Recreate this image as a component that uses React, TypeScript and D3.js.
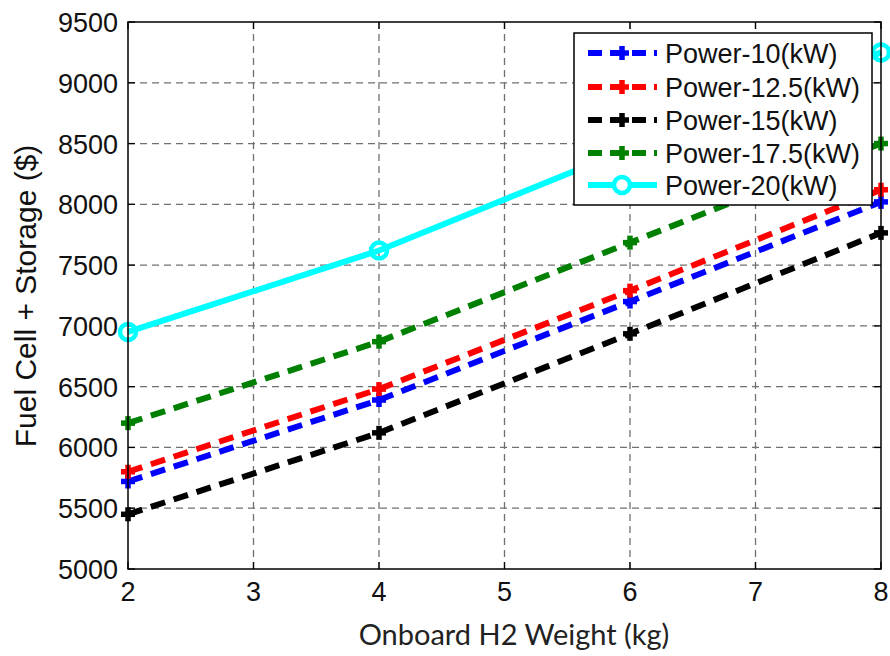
import React from "react";
import * as d3 from "d3";

const weights = [2, 4, 6, 8];
const power10 = [5720, 6390, 7200, 8020];
const power12_5 = [5800, 6480, 7290, 8120];
const power15 = [5450, 6120, 6935, 7765];
const power17_5 = [6200, 6870, 7685, 8500];
const power20 = [6950, 7620, 8460, 9250];

const seriesNames = ["Power-10(kW)", "Power-12.5(kW)", "Power-15(kW)", "Power-17.5(kW)", "Power-20(kW)"];
const seriesColors = ["#0000ff", "#ff0000", "#000000", "#008000", "#00ffff"];
const seriesValues = [power10, power12_5, power15, power17_5, power20];

const xTicks = [2, 3, 4, 5, 6, 7, 8];
const yTicks = [5000, 5500, 6000, 6500, 7000, 7500, 8000, 8500, 9000, 9500];

export default function App() {
  const W = 890, H = 656;
  const left = 128, right = 881, top = 22, bottom = 569;
  const x = d3.scaleLinear().domain([2, 8]).range([left, right]);
  const y = d3.scaleLinear().domain([5000, 9500]).range([bottom, top]);
  const line = d3.line<number>().x((_, i) => x(weights[i])).y((d) => y(d));
  const font = "'Liberation Sans', Arial, sans-serif";

  const plus = (cx: number, cy: number, color: string, key: string) => (
    <g key={key} stroke={color} strokeWidth={5.5}>
      <line x1={cx - 7} x2={cx + 7} y1={cy} y2={cy} />
      <line x1={cx} x2={cx} y1={cy - 7} y2={cy + 7} />
    </g>
  );

  const legX = 574, legY = 33, legW = 298, legH = 172;
  const rowY = [53, 87, 120, 153, 185];

  return (
    <svg width={W} height={H} style={{ position: "absolute", left: 0, top: 0 }}>
      <rect width={W} height={H} fill="#fff" />
      {/* grid */}
      {xTicks.slice(1, -1).map((t) => (
        <line key={"gx" + t} x1={x(t)} x2={x(t)} y1={top} y2={bottom} stroke="#707070" strokeWidth={1.3} strokeDasharray="7 5" />
      ))}
      {yTicks.slice(1, -1).map((t) => (
        <line key={"gy" + t} x1={left} x2={right} y1={y(t)} y2={y(t)} stroke="#707070" strokeWidth={1.3} strokeDasharray="7 5" />
      ))}
      {/* ticks */}
      {xTicks.map((t) => (
        <g key={"tx" + t}>
          <line x1={x(t)} x2={x(t)} y1={bottom} y2={bottom - 7} stroke="#000" strokeWidth={1.3} />
          <line x1={x(t)} x2={x(t)} y1={top} y2={top + 7} stroke="#000" strokeWidth={1.3} />
          <text x={x(t)} y={601} textAnchor="middle" fontFamily={font} fontSize={27} fill="#111">{t}</text>
        </g>
      ))}
      {yTicks.map((t) => (
        <g key={"ty" + t}>
          <line x1={left} x2={left + 7} y1={y(t)} y2={y(t)} stroke="#000" strokeWidth={1.3} />
          <line x1={right} x2={right - 7} y1={y(t)} y2={y(t)} stroke="#000" strokeWidth={1.3} />
          <text x={118} y={y(t) + 10} textAnchor="end" fontFamily={font} fontSize={27} fill="#111">{t}</text>
        </g>
      ))}
      {/* series */}
      {seriesValues.map((vals, si) => {
        const c = seriesColors[si];
        const dashed = si < 4;
        return (
          <g key={"s" + si}>
            <path d={line(vals) || ""} fill="none" stroke={c} strokeWidth={6} strokeDasharray={dashed ? "15 9" : undefined} />
            {vals.map((v, i) =>
              dashed ? plus(x(weights[i]), y(v), c, "m" + si + "-" + i) : (
                <circle key={"m" + si + "-" + i} cx={x(weights[i])} cy={y(v)} r={8} fill="none" stroke={c} strokeWidth={4.5} />
              )
            )}
          </g>
        );
      })}
      {/* axes box */}
      <rect x={left} y={top} width={right - left} height={bottom - top} fill="none" stroke="#000" strokeWidth={1.5} />
      {/* legend */}
      <rect x={legX} y={legY} width={legW} height={legH} fill="#fff" stroke="#000" strokeWidth={1.5} />
      {seriesNames.map((n, i) => {
        const c = seriesColors[i];
        const dashed = i < 4;
        const ly = rowY[i];
        return (
          <g key={"l" + i}>
            <line x1={588} x2={657} y1={ly} y2={ly} stroke={c} strokeWidth={6} strokeDasharray={dashed ? "14 8" : undefined} />
            {dashed ? plus(622, ly, c, "lm" + i) : <circle cx={622} cy={ly} r={8} fill="#fff" stroke={c} strokeWidth={4.5} />}
            <text x={665} y={ly + 10} fontFamily={font} fontSize={27} fill="#111">{n}</text>
          </g>
        );
      })}
      {/* axis titles */}
      <text x={514} y={645} textAnchor="middle" fontFamily="Lato, 'Open Sans', sans-serif" fontSize={29} fill="#222">Onboard H2 Weight (kg)</text>
      <text transform="translate(36,296) rotate(-90)" textAnchor="middle" fontFamily={font} fontSize={30} fill="#111">Fuel Cell + Storage ($)</text>
    </svg>
  );
}
